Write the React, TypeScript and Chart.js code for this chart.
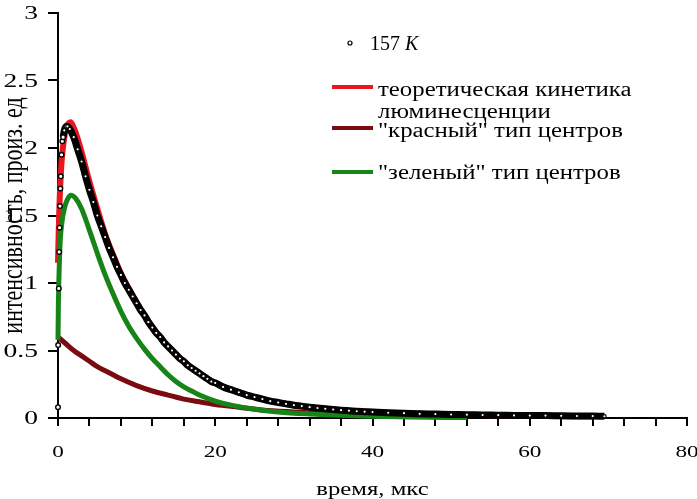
import { useEffect, useRef } from 'react';
import { Chart, registerables } from 'chart.js';

Chart.register(...registerables);

// Measured luminescence kinetics at 157 K (time in µs, intensity in arb. units)
const RISE_T = [0, 0.02, 0.1, 0.15, 0.2, 0.25, 0.3, 0.35, 0.45, 0.55, 0.65];
const RISE_I = [0.08, 0.54, 0.96, 1.23, 1.41, 1.57, 1.7, 1.79, 1.95, 2.05, 2.08];

const DECAY_T = [
  0.65, 0.8, 1, 1.2, 1.5,
  2, 2.5, 3, 3.5, 4, 4.5, 5, 5.5, 6, 6.5, 7, 7.5, 8, 8.5, 9, 9.5, 10,
  10.5, 11, 11.5, 12, 12.5, 13, 13.5, 14, 14.5, 15, 15.5, 16, 16.5, 17, 17.5, 18, 18.5, 19, 19.5, 20,
  21, 22, 23, 24, 25, 26, 27, 28, 29, 30, 31, 32, 33, 34, 35, 36, 37, 38, 39, 40,
  42, 44, 46, 48, 50, 52, 54, 56, 58, 60, 62, 64, 66, 68, 69.5,
];
const DECAY_I = [
  2.08, 2.13, 2.16, 2.16, 2.14,
  2.08, 1.99, 1.9, 1.79, 1.69, 1.6, 1.5, 1.42, 1.34, 1.26, 1.19, 1.12, 1.06, 1.0, 0.95, 0.9, 0.85,
  0.8, 0.76, 0.71, 0.67, 0.63, 0.6, 0.56, 0.53, 0.5, 0.47, 0.44, 0.42, 0.39, 0.37, 0.35, 0.33, 0.31, 0.29, 0.27, 0.26,
  0.23, 0.21, 0.19, 0.17, 0.155, 0.14, 0.125, 0.115, 0.105, 0.095, 0.088, 0.08, 0.074, 0.068, 0.063, 0.058, 0.054, 0.05, 0.047, 0.044,
  0.039, 0.036, 0.031, 0.029, 0.026, 0.025, 0.022, 0.021, 0.019, 0.018, 0.018, 0.016, 0.015, 0.014, 0.013,
];

// Theoretical kinetics
const THEORY_T = [0, 0.1, 0.2, 0.35, 0.5, 0.75, 1, 1.3, 1.6, 2, 2.5, 3, 3.5, 4, 5, 6, 7, 8, 9, 10, 12, 14, 16, 18, 20, 22, 25, 30, 35, 40, 50, 60, 68];
const THEORY_I = [1.15, 1.4, 1.6, 1.8, 1.93, 2.06, 2.14, 2.18, 2.19, 2.15, 2.07, 1.97, 1.86, 1.75, 1.55, 1.36, 1.21, 1.07, 0.96, 0.855, 0.675, 0.53, 0.42, 0.33, 0.26, 0.21, 0.155, 0.095, 0.063, 0.044, 0.025, 0.016, 0.012];

// "Red" type centres
const RED_T = [0, 1, 2, 3, 4, 5, 6, 7, 8, 10, 12, 14, 16, 18, 20, 23, 26, 30, 35, 40, 45, 50];
const RED_I = [0.6, 0.55, 0.5, 0.46, 0.42, 0.38, 0.35, 0.32, 0.29, 0.24, 0.2, 0.17, 0.14, 0.12, 0.1, 0.08, 0.06, 0.045, 0.03, 0.02, 0.013, 0.008];

// "Green" type centres
const GREEN_T = [0, 0.05, 0.1, 0.2, 0.3, 0.5, 0.8, 1.2, 1.7, 2.2, 3, 4, 5, 6, 7, 8, 9, 10, 11, 12, 13, 14, 15, 16, 17, 18, 20, 22, 25, 28, 32, 36, 40, 45, 52];
const GREEN_I = [0.58, 0.85, 1.0, 1.2, 1.33, 1.45, 1.55, 1.62, 1.65, 1.63, 1.55, 1.39, 1.22, 1.06, 0.92, 0.79, 0.68, 0.59, 0.51, 0.44, 0.38, 0.32, 0.27, 0.23, 0.2, 0.17, 0.125, 0.095, 0.065, 0.045, 0.03, 0.02, 0.013, 0.007, 0.003];

const X_TICK_VALUES = [0, 20, 40, 60, 80];
const Y_TICK_VALUES = [0, 0.5, 1, 1.5, 2, 2.5, 3];
const Y_TICK_LABELS = ['0', '0.5', '1', '1.5', '2', '2.5', '3'];

const X_TITLE = 'время, мкс';
const Y_TITLE = 'интенсивность, произ. ед';
const TEMP_LABEL = '157 ';
const TEMP_UNIT = 'K';
const THEORY_LABEL = ['теоретическая кинетика', 'люминесценции'];
const RED_LABEL = '"красный" тип центров';
const GREEN_LABEL = '"зеленый" тип центров';

const C_THEORY = '#e8161e';
const C_RED = '#7a0b10';
const C_GREEN = '#178417';
const FONT = '"Liberation Serif", "Times New Roman", serif';

const toPoints = (t: number[], v: number[]) => t.map((x, i) => ({ x, y: v[i] }));

type TextOpts = {
  size: number;
  sx?: number;
  align?: CanvasTextAlign;
  baseline?: CanvasTextBaseline;
  italic?: boolean;
  rotate?: boolean;
};

function drawText(ctx: CanvasRenderingContext2D, text: string, x: number, y: number, o: TextOpts) {
  const sx = o.sx ?? 1;
  ctx.save();
  ctx.translate(x, y);
  if (o.rotate) {
    ctx.rotate(-Math.PI / 2);
    ctx.scale(1, sx);
  } else {
    ctx.scale(sx, 1);
  }
  ctx.font = `${o.italic ? 'italic ' : ''}${o.size}px ${FONT}`;
  ctx.textAlign = o.align ?? 'left';
  ctx.textBaseline = o.baseline ?? 'alphabetic';
  ctx.fillStyle = '#000';
  ctx.fillText(text, 0, 0);
  const w = ctx.measureText(text).width * sx;
  ctx.restore();
  return w;
}

const textPlugin = {
  id: 'axisTextAndLegend',
  afterDraw(chart: any) {
    const ctx: CanvasRenderingContext2D = chart.ctx;
    const xs = chart.scales.x;
    const ys = chart.scales.y;

    // tick labels
    Y_TICK_VALUES.forEach((v, i) => {
      drawText(ctx, Y_TICK_LABELS[i], 38, ys.getPixelForValue(v) + 6, { size: 19, sx: 1.45, align: 'right' });
    });
    X_TICK_VALUES.forEach((v) => {
      drawText(ctx, String(v), xs.getPixelForValue(v), 457, { size: 16, sx: 1.45, align: 'center' });
    });

    // axis titles
    drawText(ctx, X_TITLE, (xs.left + xs.right) / 2, 495, { size: 19, sx: 1.3, align: 'center' });
    drawText(ctx, Y_TITLE, 22, (ys.top + ys.bottom) / 2, { size: 22, sx: 1.3, align: 'center', rotate: true });

    // legend
    ctx.save();
    ctx.beginPath();
    ctx.arc(350, 43, 2, 0, Math.PI * 2);
    ctx.fillStyle = '#fff';
    ctx.fill();
    ctx.lineWidth = 1.2;
    ctx.strokeStyle = '#000';
    ctx.stroke();
    ctx.restore();
    const w = drawText(ctx, TEMP_LABEL, 370, 50, { size: 20 });
    drawText(ctx, TEMP_UNIT, 370 + w, 50, { size: 20, italic: true });

    const sample = (color: string, y: number) => {
      ctx.save();
      ctx.strokeStyle = color;
      ctx.lineWidth = 4;
      ctx.beginPath();
      ctx.moveTo(332, y);
      ctx.lineTo(373, y);
      ctx.stroke();
      ctx.restore();
    };
    sample(C_THEORY, 87);
    sample(C_RED, 128);
    sample(C_GREEN, 172);
    const lo = { size: 20, sx: 1.24 };
    drawText(ctx, THEORY_LABEL[0], 378, 96, lo);
    drawText(ctx, THEORY_LABEL[1], 378, 118, lo);
    drawText(ctx, RED_LABEL, 378, 137, lo);
    drawText(ctx, GREEN_LABEL, 378, 179, lo);
  },
};

export default function App() {
  const ref = useRef<HTMLCanvasElement>(null);

  useEffect(() => {
    const lineDs = (label: string, t: number[], v: number[], color: string, width: number) => ({
      label,
      data: toPoints(t, v),
      borderColor: color,
      backgroundColor: color,
      borderWidth: width,
      pointRadius: 0,
      showLine: true,
      fill: false,
      cubicInterpolationMode: 'monotone' as const,
      clip: false as const,
    });

    const chart = new Chart(ref.current!, {
      type: 'line',
      data: {
        datasets: [
          {
            label: '157 K',
            data: toPoints(RISE_T, RISE_I),
            showLine: false,
            pointRadius: 2.3,
            pointBackgroundColor: '#fff',
            pointBorderColor: '#000',
            pointBorderWidth: 1.4,
            clip: false as const,
          },
          {
            label: '157 K decay',
            data: toPoints(DECAY_T, DECAY_I),
            showLine: true,
            borderColor: '#000',
            borderWidth: 7,
            cubicInterpolationMode: 'monotone' as const,
            pointRadius: 1.7,
            pointBackgroundColor: '#fff',
            pointBorderColor: '#000',
            pointBorderWidth: 1.2,
            clip: false as const,
          },
          lineDs(GREEN_LABEL, GREEN_T, GREEN_I, C_GREEN, 5),
          lineDs(THEORY_LABEL.join(' '), THEORY_T, THEORY_I, C_THEORY, 6),
          lineDs(RED_LABEL, RED_T, RED_I, C_RED, 5),
        ],
      },
      options: {
        animation: false,
        responsive: false,
        devicePixelRatio: 1,
        layout: { padding: { top: 13, right: 10, left: 0, bottom: 0 } },
        plugins: { legend: { display: false }, tooltip: { enabled: false } },
        scales: {
          x: {
            type: 'linear',
            min: 0,
            max: 80,
            ticks: { stepSize: 4, display: false },
            grid: { drawOnChartArea: false, drawTicks: true, tickLength: 8, color: '#000', lineWidth: 2 },
            border: { color: '#000', width: 2 },
            afterFit: (s: any) => {
              s.height = 81;
            },
          },
          y: {
            min: 0,
            max: 3,
            ticks: { stepSize: 0.5, display: false },
            grid: { drawOnChartArea: false, drawTicks: true, tickLength: 10, color: '#000', lineWidth: 2 },
            border: { color: '#000', width: 2 },
            afterFit: (s: any) => {
              s.width = 58;
            },
          },
        },
      },
      plugins: [textPlugin],
    });
    return () => chart.destroy();
  }, []);

  return (
    <div style={{ position: 'absolute', left: 0, top: 0, width: 697, height: 499, background: '#fff' }}>
      <canvas ref={ref} width={697} height={499} style={{ display: 'block', width: 697, height: 499 }} />
    </div>
  );
}
